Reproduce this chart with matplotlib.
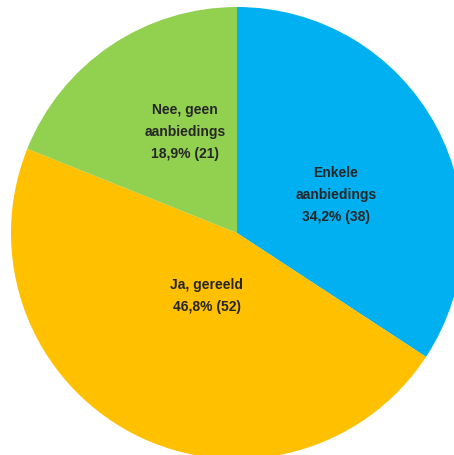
import matplotlib.pyplot as plt

# survey answers
labels = ['Enkele\naanbiedings', 'Ja, gereeld', 'Nee, geen\naanbiedings']
counts = [38, 52, 21]
percents = ['34,2%', '46,8%', '18,9%']
colors = ['#00B0F0', '#FFC000', '#92D050']
# label spots inside the slices (data coords)
label_pos = [(0.438, 0.173), (-0.133, -0.274), (-0.23, 0.451)]

plt.rcParams['font.family'] = ['Liberation Sans', 'DejaVu Sans']

fig = plt.figure(figsize=(4.54, 4.56), dpi=100)
# pie centre at (237, 234) px, radius 226 px
ax = fig.add_axes([11 / 454, -4 / 456, 452 / 454, 452 / 456])

ax.pie(counts, colors=colors, startangle=90, counterclock=False,
       radius=1.0, wedgeprops={'linewidth': 0})

for lab, n, pct, (x, y) in zip(labels, counts, percents, label_pos):
    txt = lab + '\n' + pct + ' (' + str(n) + ')'
    ax.text(x, y, txt, ha='center', va='center', fontsize=10,
            fontweight='bold', color='#262626', linespacing=1.75)

ax.set_xlim(-1, 1)
ax.set_ylim(-1, 1)
ax.set_aspect('auto')
ax.axis('off')

fig.savefig('out.png', dpi=100)
